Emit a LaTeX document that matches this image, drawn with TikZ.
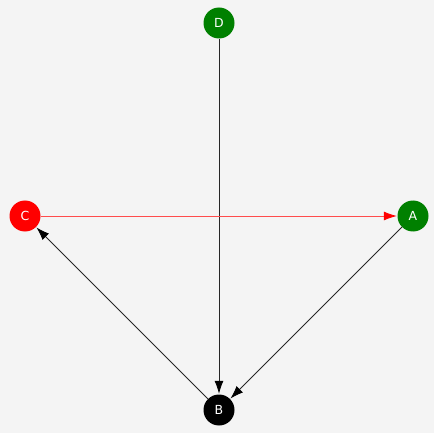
\documentclass[tikz,border=0pt]{standalone}
\usepackage{fontspec}
\setmainfont{DejaVu Sans}
\usetikzlibrary{arrows.meta}
\begin{document}
\begin{tikzpicture}[x=1pt,y=-1pt,
  vert/.style={circle,minimum size=31pt,inner sep=0pt,text=white,font=\fontsize{12.5}{14}\selectfont},
  edge/.style={draw=black!85,line width=0.8pt,-{Latex[length=13pt,width=9pt,color=black]},shorten >=0.5pt}]
\fill[fill={rgb,255:red,244;green,244;blue,244}] (0,0) rectangle (434,433);
\useasboundingbox (0,0) rectangle (434,433);
\node[vert,fill={rgb,255:red,0;green,128;blue,0}] (D) at (219,23) {D};
\node[vert,fill=red] (C) at (25,216) {C};
\node[vert,fill={rgb,255:red,0;green,128;blue,0}] (A) at (413,216) {A};
\node[vert,fill=black] (B) at (219,410) {B};
\draw[edge] (D) -- (B);
\draw[edge] (A) -- (B);
\draw[edge] (B) -- (C);
\draw[edge,draw=red!70,-{Latex[length=13pt,width=9pt,fill=red,color=red]}] (C) -- (A);
\end{tikzpicture}
\end{document}
